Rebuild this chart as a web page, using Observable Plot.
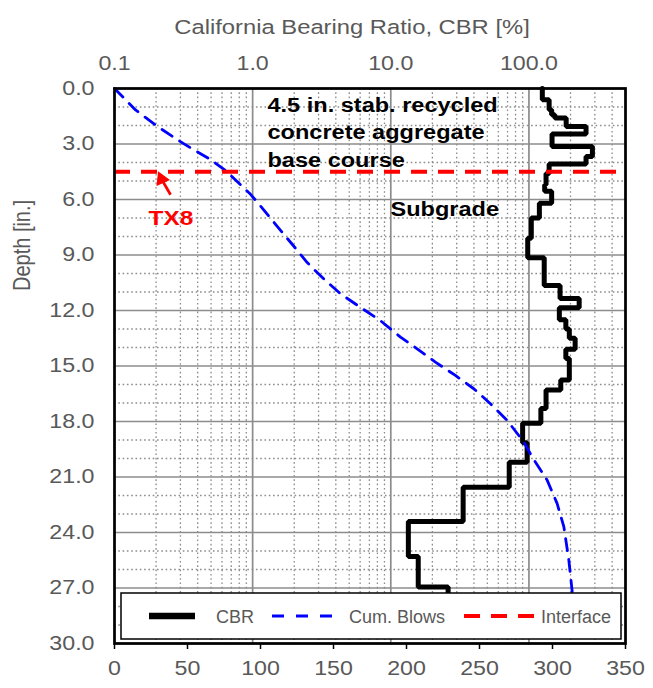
<!DOCTYPE html>
<html>
<head>
<meta charset="utf-8">
<script src="https://cdn.jsdelivr.net/npm/d3@7"></script>
<script src="https://cdn.jsdelivr.net/npm/@observablehq/plot@0.6"></script>
<style>
  body { margin: 0; background: #fff; }
  #chart { position: relative; width: 653px; height: 688px; }
  #chart svg { position: absolute; left: 0; top: 0; }
</style>
</head>
<body>
<div id="chart"></div>
<script>
// ---------- data ----------
const cbrDepth = [0, 0.61, 1.15, 1.42, 1.6, 2.05, 2.46, 3.13, 3.67, 4.08, 4.6, 5.2, 5.56, 6.2, 7.0, 8.1, 9.15, 10.65, 11.35, 11.85, 12.5, 13.0, 13.5, 14.1, 14.6, 15.75, 16.3, 17.3, 18.1, 19.15, 20.2, 21.55, 23.4, 25.3, 26.95, 27.6];
const cbrValue = [125, 140, 146, 154, 186, 259, 147, 288, 259, 140, 133, 130, 146, 119, 104, 98, 129, 168, 231, 166, 185, 196, 216, 185, 196, 170, 133, 122, 90, 97, 72, 33.4, 13.4, 15.8, 26, 26];

const blowsDepth = [0, 1.16, 2.04, 2.76, 3.21, 3.84, 4.43, 5.72, 6.35, 7.34, 8.42, 9.41, 10.3, 11.1, 11.83, 12.55, 13.44, 14.07, 14.79, 15.51, 16.23, 17.04, 17.94, 19.11, 19.92, 21.18, 22.44, 23.7, 25.5, 27.2];
const blowsValue = [0, 14.4, 29.2, 42.9, 52.1, 65.8, 76, 93.2, 100, 110.3, 121.7, 132, 143.4, 154.8, 168.5, 182.2, 195.9, 207.3, 219.8, 233.5, 246.1, 257.5, 268.9, 280.4, 286.1, 296.4, 303.2, 307.8, 311.2, 313.5];

const interfaceDepth = [4.5];

const depthTicks = [0, 3, 6, 9, 12, 15, 18, 21, 24, 27, 30];
const depthMinor = [1, 2, 4, 5, 7, 8, 10, 11, 13, 14, 16, 17, 19, 20, 22, 23, 25, 26, 28, 29];
const blowTicks = [0, 50, 100, 150, 200, 250, 300, 350];
const cbrTicks = [0.1, 1, 10, 100];
const cbrMajor = [1, 10, 100];
const cbrMinor = [0.2, 0.3, 0.4, 0.5, 0.6, 0.7, 0.8, 0.9, 2, 3, 4, 5, 6, 7, 8, 9, 20, 30, 40, 50, 60, 70, 80, 90, 200, 300, 400];

const titleTop = "California Bearing Ratio, CBR [%]";
const titleLeft = "Depth [in.]";
const baseLines = ["4.5 in. stab. recycled", "concrete aggregate", "base course"];
const subgradeLabel = "Subgrade";
const sectionLabel = "TX8";
const legendLabels = ["CBR", "Cum. Blows", "Interface"];
const arrowAt = [{blows1: 38.4, depth1: 5.74, blows2: 32.2, depth2: 4.9}];

// ---------- tables ----------
const cbr = cbrDepth.map((d, i) => ({depth: d, cbr: cbrValue[i]}));
const blows = blowsDepth.map((d, i) => ({depth: d, blows: blowsValue[i]}));

// ---------- layout ----------
const W = 653, H = 688;
const M = {top: 88, right: 28, bottom: 45, left: 114};
const FONT = "'Liberation Sans', Arial, sans-serif";
const GRAY = "#595959";
const GRID = "#8c8c8c";
const fmt1 = d3.format(".1f");

const logPlot = Plot.plot({
  width: W, height: H,
  marginTop: M.top, marginRight: M.right, marginBottom: M.bottom, marginLeft: M.left,
  style: {fontFamily: FONT, background: "white", overflow: "visible"},
  x: {type: "log", domain: [0.1, 500], axis: null},
  y: {domain: [0, 30], reverse: true, axis: null},
  marks: [
    Plot.ruleX(cbrMinor, {stroke: GRID, strokeWidth: 1.3, strokeDasharray: "1.6,2.7"}),
    Plot.ruleY(depthMinor, {stroke: GRID, strokeWidth: 1.3, strokeDasharray: "1.6,2.7"}),
    Plot.ruleX(cbrMajor, {stroke: GRID, strokeWidth: 1.7}),
    Plot.ruleY(depthTicks, {stroke: GRID, strokeWidth: 1.7}),
    Plot.line(cbr, {x: "cbr", y: "depth", curve: "step-before", stroke: "black", strokeWidth: 5, strokeLinejoin: "miter"}),
    Plot.axisX({anchor: "top", label: null, ticks: cbrTicks, tickFormat: fmt1, tickSize: 0, tickPadding: 19, fontSize: 20, fill: GRAY}),
    Plot.text([titleTop], {text: d => d, frameAnchor: "top", dx: -18, dy: -55, lineAnchor: "bottom", fontSize: 20.5, fill: GRAY})
  ]
});

function legendMark() {
  const g = d3.create("svg:g").attr("font-family", FONT).attr("text-anchor", "start");
  const bx = M.left + 7, by = H - M.bottom - 50, bw = 500, bh = 46, cy = by + 23;
  g.append("rect").attr("x", bx).attr("y", by).attr("width", bw).attr("height", bh)
    .attr("fill", "white").attr("stroke", "black").attr("stroke-width", 1.5);
  const samples = [
    {x1: 28, x2: 74, stroke: "black", width: 6.5, dash: null},
    {x1: 151, x2: 211, stroke: "#0000ff", width: 3, dash: "12,12"},
    {x1: 343, x2: 413, stroke: "#ff0000", width: 4, dash: "16,11"}
  ];
  const textX = [95, 228, 420];
  samples.forEach((s, i) => {
    const l = g.append("line").attr("x1", bx + s.x1).attr("x2", bx + s.x2)
      .attr("y1", cy).attr("y2", cy).attr("stroke", s.stroke).attr("stroke-width", s.width);
    if (s.dash) l.attr("stroke-dasharray", s.dash);
    g.append("text").attr("class", "legend-text").attr("x", bx + textX[i]).attr("y", cy + 6.5)
      .attr("text-anchor", "start").attr("font-size", 18).attr("fill", GRAY).text(legendLabels[i]);
  });
  return g.node();
}

const linPlot = Plot.plot({
  width: W, height: H,
  marginTop: M.top, marginRight: M.right, marginBottom: M.bottom, marginLeft: M.left,
  style: {fontFamily: FONT, background: "transparent", overflow: "visible"},
  x: {domain: [0, 350], axis: null},
  y: {domain: [0, 30], reverse: true, axis: null},
  marks: [
    Plot.line(blows, {x: "blows", y: "depth", stroke: "#0000ff", strokeWidth: 2.8, strokeDasharray: "12,9"}),
    Plot.ruleY(interfaceDepth, {stroke: "#ff0000", strokeWidth: 3.8, strokeDasharray: "16,11"}),
    Plot.frame({stroke: "black", strokeWidth: 2.75}),
    legendMark,
    Plot.axisX({anchor: "bottom", label: null, ticks: blowTicks, tickSize: 6, tickPadding: 11, fontSize: 20, fill: GRAY, stroke: "black", strokeWidth: 1.5}),
    Plot.axisY({anchor: "left", label: null, ticks: depthTicks, tickFormat: fmt1, tickSize: 0, tickPadding: 20, fontSize: 20, fill: GRAY}),
    Plot.text([titleLeft], {text: d => d, frameAnchor: "left", dx: -92, dy: -75, rotate: -90, fontSize: 20, fill: GRAY}),
    ...baseLines.map((t, i) => Plot.text([t], {text: d => d, frameAnchor: "top-left", dx: 153, dy: 23 + i * 27.5, textAnchor: "start", lineAnchor: "bottom", fontSize: 20.3, fontWeight: "bold", fill: "black"})),
    Plot.text([subgradeLabel], {text: d => d, frameAnchor: "top-left", dx: 276, dy: 127, textAnchor: "start", lineAnchor: "bottom", fontSize: 20.3, fontWeight: "bold", fill: "black"}),
    Plot.text([sectionLabel], {text: d => d, frameAnchor: "top-left", dx: 34, dy: 136, textAnchor: "start", lineAnchor: "bottom", fontSize: 21, fontWeight: "bold", fill: "#ff0000"}),
    Plot.link(arrowAt, {x1: "blows1", y1: "depth1", x2: "blows2", y2: "depth2", stroke: "#ff0000", strokeWidth: 2.8}),
    Plot.dot(arrowAt, {x: "blows2", y: "depth2", symbol: "triangle", r: 5.5, fill: "#ff0000", stroke: "none", rotate: -24})
  ]
});

const chart = document.getElementById("chart");
chart.appendChild(logPlot);
chart.appendChild(linPlot);

// the reference text is horizontally stretched; reproduce that
const STRETCH = 1.16;
function stretchText(svg) {
  svg.querySelectorAll("text").forEach(t => {
    if (t.classList.contains("legend-text")) return;
    const tr = t.getAttribute("transform") || "";
    if (tr.includes("rotate")) {
      t.setAttribute("transform", tr + ` scale(1,${STRETCH})`);
      return;
    }
    const spans = t.querySelectorAll("tspan");
    const targets = spans.length ? Array.from(spans) : [t];
    targets.forEach(el => {
      const w = el.getComputedTextLength();
      if (w > 0) {
        el.setAttribute("textLength", (w * STRETCH).toFixed(2));
        el.setAttribute("lengthAdjust", "spacingAndGlyphs");
      }
    });
  });
}
stretchText(logPlot);
stretchText(linPlot);
</script>
</body>
</html>
